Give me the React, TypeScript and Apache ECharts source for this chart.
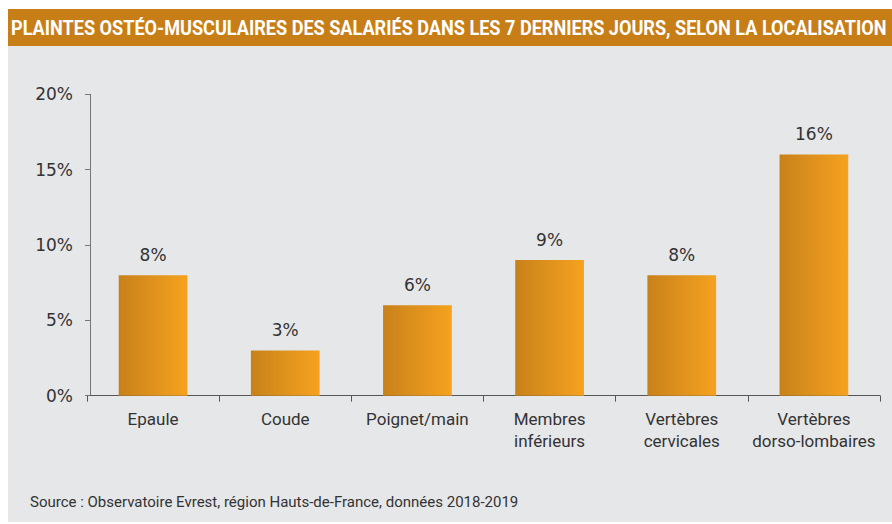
import React, { useEffect, useRef } from "react";
import * as echarts from "echarts";

const categories = ["Epaule", "Coude", "Poignet/main", "Membres\ninférieurs", "Vertèbres\ncervicales", "Vertèbres\ndorso-lombaires"];
const values = [8, 3, 6, 9, 8, 16];
const yTicks = [0, 5, 10, 15, 20];
const titleText = "PLAINTES OSTÉO-MUSCULAIRES DES SALARIÉS DANS LES 7 DERNIERS JOURS, SELON LA LOCALISATION";
const sourceText = "Source : Observatoire Evrest, région Hauts-de-France, données 2018-2019";

export default function App() {
  const ref = useRef<HTMLDivElement>(null);
  useEffect(() => {
    if (!ref.current) return;
    const chart = echarts.init(ref.current, null, { renderer: "svg" });
    const font = "Roboto, 'Open Sans', sans-serif";
    const numFont = "'DejaVu Sans', Roboto, sans-serif";
    chart.setOption({
      animation: false,
      backgroundColor: "#ffffff",
      graphic: [
        { type: "rect", z: -10, shape: { x: 8, y: 46, width: 884, height: 476 }, style: { fill: "#e6e7e9" } },
        { type: "rect", z: -10, shape: { x: 8, y: 9, width: 884, height: 37 }, style: { fill: "#c77e17" } },
        {
          type: "text", x: 11, y: 28, scaleX: 0.905,
          style: { text: titleText, fill: "#ffffff", font: "bold 20px Roboto, sans-serif", verticalAlign: "middle", textAlign: "left" },
        },
        {
          type: "text", x: 30, y: 502,
          style: { text: sourceText, fill: "#333333", font: "15px " + font, verticalAlign: "middle", textAlign: "left" },
        },
      ],
      grid: { left: 87, right: 12, top: 94.3, bottom: 128.3, containLabel: false },
      xAxis: {
        type: "category",
        data: categories,
        axisLine: { lineStyle: { color: "#555555", width: 1 } },
        axisTick: { show: true, length: 6, lineStyle: { color: "#555555" } },
        axisLabel: { color: "#333333", fontSize: 17, fontFamily: font, lineHeight: 22, margin: 12, interval: 0 },
      },
      yAxis: {
        type: "value",
        min: 0,
        max: 20,
        interval: 5,
        offset: -3,
        splitLine: { show: false },
        axisLine: { show: true, lineStyle: { color: "#777777", width: 1 } },
        axisTick: { show: true, length: 5, lineStyle: { color: "#777777" } },
        axisLabel: { color: "#333333", fontSize: 17, fontFamily: numFont, margin: 17, formatter: (v: number) => (yTicks.includes(v) ? v + "%" : "") },
      },
      series: [
        {
          type: "bar",
          data: values,
          barWidth: "52%",
          itemStyle: {
            color: new echarts.graphic.LinearGradient(0, 0, 1, 0, [
              { offset: 0, color: "#c8811a" },
              { offset: 1, color: "#f6a21f" },
            ]),
          },
          label: { show: true, position: "top", distance: 12, formatter: "{c}%", color: "#333333", fontSize: 17, fontFamily: numFont },
        },
      ],
    });
    return () => chart.dispose();
  }, []);
  return <div ref={ref} style={{ position: "fixed", left: 0, top: 0, width: 892, height: 524 }} />;
}
